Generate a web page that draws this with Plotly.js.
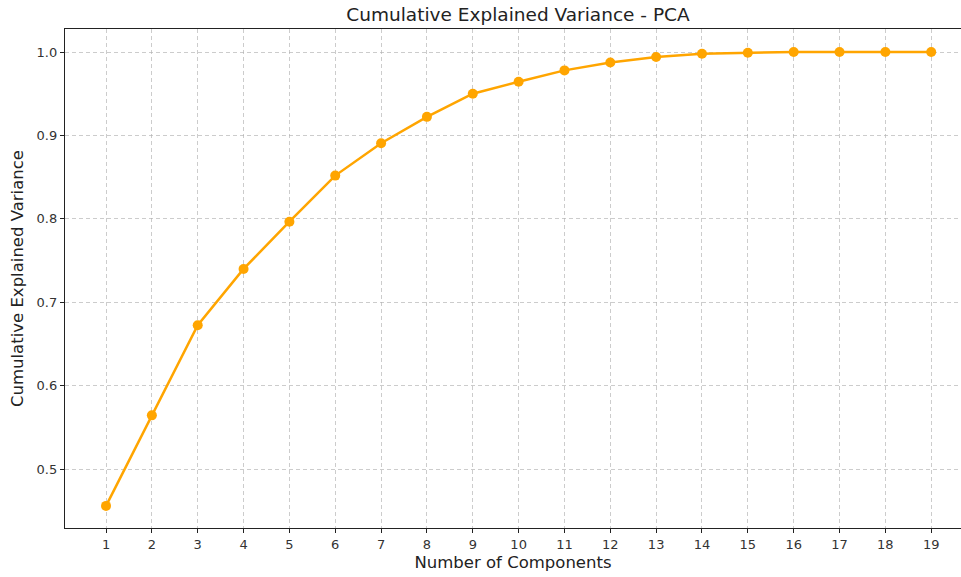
<!DOCTYPE html>
<html>
<head>
<meta charset="utf-8">
<script src="https://cdn.plot.ly/plotly-3.0.1.min.js"></script>
<style>html,body{margin:0;padding:0;background:#fff;}#chart{width:961px;height:577px;}</style>
</head>
<body>
<div id="chart"></div>
<script>
const components = [1,2,3,4,5,6,7,8,9,10,11,12,13,14,15,16,17,18,19];
const cumulativeVariance = [0.456,0.5645,0.6726,0.740,0.7966,0.8519,0.8907,0.9223,0.950,0.9643,0.978,0.9875,0.994,0.998,0.9992,1.0,1.0,1.0,1.0];
const yTickValues = [0.5,0.6,0.7,0.8,0.9,1.0];

const font = "DejaVu Sans, sans-serif";
const gridColor = 'rgba(176,176,176,0.65)';
const trace = {
  x: components,
  y: cumulativeVariance,
  type: 'scatter',
  mode: 'lines+markers',
  line: {color: '#FFA500', width: 2.5},
  marker: {color: '#FFA500', size: 10},
  hoverinfo: 'skip'
};
const layout = {
  width: 961, height: 577,
  margin: {l: 65, r: 0, t: 29, b: 49},
  paper_bgcolor: '#fff', plot_bgcolor: '#fff',
  showlegend: false,
  font: {family: font, color: '#222'},
  title: {text: 'Cumulative Explained Variance - PCA', font: {family: font, size: 18.5, color: '#222'},
          xref: 'container', yref: 'container', x: 0.539, xanchor: 'center', y: 1 - 14.5/577, yanchor: 'middle'},
  xaxis: {
    range: [0.105, 19.65], tickvals: components, ticktext: components.map(String),
    ticks: 'outside', ticklen: 4, tickcolor: '#222', tickwidth: 1,
    tickfont: {family: font, size: 13, color: '#333'},
    showline: true, linecolor: '#222', linewidth: 1.2, mirror: true,
    showgrid: true, gridcolor: gridColor, griddash: '4px,3px', gridwidth: 1,
    zeroline: false,
    title: {text: 'Number of Components', font: {family: font, size: 16.5, color: '#222'}, standoff: 5}
  },
  yaxis: {
    range: [0.4295, 1.0276], tickvals: yTickValues, tickformat: '.1f',
    ticks: 'outside', ticklen: 4, tickcolor: '#222', tickwidth: 1,
    tickfont: {family: font, size: 13, color: '#333'},
    showline: true, linecolor: '#222', linewidth: 1.2, mirror: false,
    showgrid: true, gridcolor: gridColor, griddash: '4px,3px', gridwidth: 1,
    zeroline: false,
    title: {text: 'Cumulative Explained Variance', font: {family: font, size: 16.5, color: '#222'}, standoff: 8}
  }
};
Plotly.newPlot('chart', [trace], layout, {displayModeBar: false, staticPlot: true});
</script>
</body>
</html>
